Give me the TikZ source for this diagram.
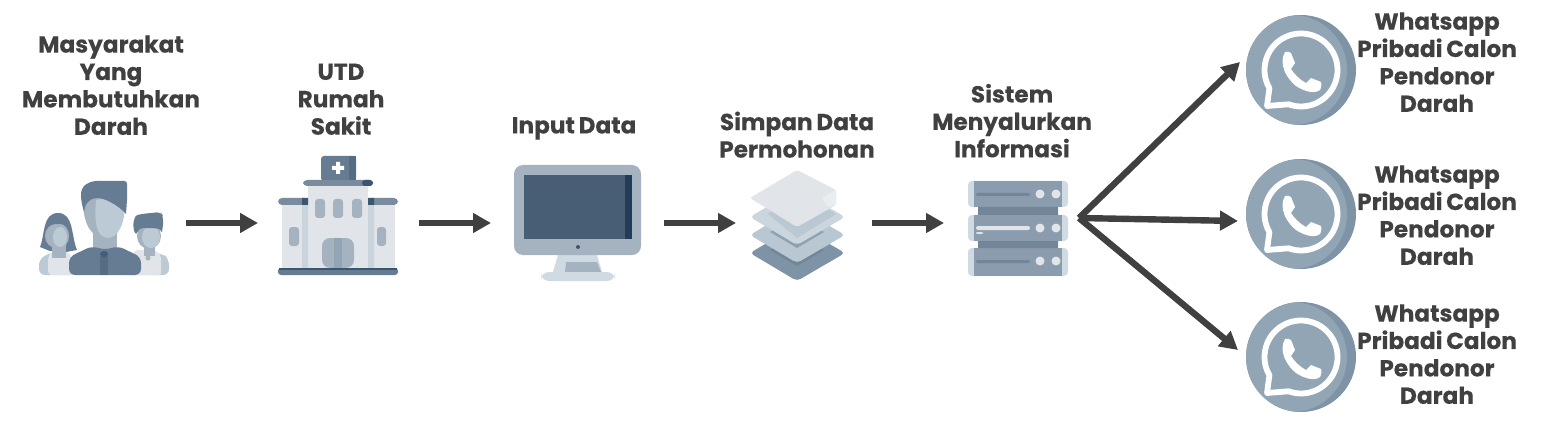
\documentclass[tikz,border=0pt]{standalone}
\usepackage{fontspec}
\setmainfont{Poppins}[BoldFont={Poppins Bold},BoldFeatures={FakeBold=0.25},WordSpace=0.75]
\usetikzlibrary{arrows.meta}
\definecolor{txt}{HTML}{404040}
\definecolor{slate}{HTML}{667C93}
\definecolor{slateD}{HTML}{566C83}
\definecolor{navy}{HTML}{3D5670}
\definecolor{screen}{HTML}{475E75}
\definecolor{strip}{HTML}{233D58}
\definecolor{midc}{HTML}{A5B3C1}
\definecolor{lightc}{HTML}{BCCAD5}
\definecolor{paleA}{HTML}{D0DAE2}
\definecolor{paleB}{HTML}{E1E5EA}
\definecolor{roof}{HTML}{7A8B9D}
\definecolor{srv}{HTML}{8A9CAE}
\definecolor{srvD}{HTML}{728599}
\definecolor{waL}{HTML}{92A5B5}
\definecolor{waD}{HTML}{7F93A7}
\tikzset{
  lbl/.style={font=\fontsize{11.6}{13.7}\selectfont\bfseries,text=txt,align=center,inner sep=0pt},
  anchorbox/.style={inner sep=0pt,outer sep=0pt,minimum height=20pt},
  conn/.style={draw=txt,line width=3.2pt,-{Triangle[length=9pt,width=9.5pt]}},
}
\newcommand{\waicon}[2]{%
  \begin{scope}[shift={(#1,#2)}]
    \fill[waD] (0,0) circle (55);
    \begin{scope}
      \clip (0,0) circle (55);
      \fill[waL] (-9,0) circle (55);
    \end{scope}
    \draw[white,line width=2.9pt,line join=round] (-31.6,18.25) arc (150:470:36.5) -- (-34,36) -- cycle;
    \fill[white] (-16,-18) .. controls (-14,-19) and (-11,-18) .. (-10,-17)
      -- (-6,-7) -- (-10,-1) .. controls (-7,4) and (-1,10) .. (5,13)
      -- (10,8) -- (20,12) .. controls (21,14) and (20,18) .. (19,20)
      .. controls (14,24) and (4,22) .. (-5,16)
      .. controls (-14,9) and (-23,-6) .. (-16,-18) -- cycle;
  \end{scope}}
\begin{document}
\begin{tikzpicture}[x=0.5pt,y=-0.5pt]
\useasboundingbox (0,0) rectangle (1545,427);
\fill[white] (0,0) rectangle (1545,427);

% ---- people
\fill[lightc,rounded corners=3] (39,275) -- (39,259) -- (52,252) -- (70,252) -- (75,275) -- cycle;
\fill[paleB,rounded corners=2] (48,275) -- (48,256) -- (52,252) -- (70,252) -- (75,275) -- cycle;
\fill[slate] (40,247) .. controls (45,236) and (42,213) .. (58,213) .. controls (74,213) and (71,236) .. (77,250) -- (66,252) -- (50,251) -- cycle;
\fill[midc] (52,240) rectangle (66,258);
\fill[midc] (56,236) ellipse (11 and 12);
\fill[midc] (60,236) ellipse (9 and 12);
\fill[lightc] (60,237) ellipse (7 and 10);

\fill[lightc,rounded corners=3] (125,275) -- (135,250) -- (163,254) -- (169,259) -- (169,275) -- cycle;
\fill[paleB,rounded corners=1] (125,275) -- (135,250) -- (155,250) -- (161,256) -- (161,275) -- cycle;
\fill[midc] (144,242) rectangle (155,256);
\fill[midc] (148,258) circle (2.5);
\fill[midc] (149,236) ellipse (12 and 13);
\fill[lightc] (151,237) ellipse (9 and 11);
\fill[slate,rounded corners=2] (136,236) .. controls (132,225) and (134,216) .. (141,214) -- (161,212) -- (163,216) -- (163,228) -- (161,234) .. controls (160,228) and (150,228) .. (139,228) -- cycle;

\fill[midc] (93,232) rectangle (117,252);
\fill[slate,rounded corners=3] (69,275) -- (69,257) -- (92,246) -- (105,250) -- (118,246) -- (141,257) -- (141,275) -- cycle;
\fill[slateD] (100,256) rectangle (108,275);
\fill[navy!80!slate] (104,254) ellipse (4 and 3);
\fill[midc] (83,200) .. controls (83,225) and (92,238) .. (105,238) .. controls (118,238) and (125,225) .. (125,200) -- (124,195) -- (85,195) -- cycle;
\fill[lightc] (96,200) .. controls (94,225) and (97,236) .. (107,238) .. controls (118,238) and (125,225) .. (125,200) -- (124,195) -- cycle;
\fill[slate] (84,212) .. controls (80,198) and (80,190) .. (84,186) .. controls (87,183) and (92,181) .. (97,181) -- (124,181) .. controls (126,181) and (127,182) .. (127,184) -- (127,200) -- (126,214) .. controls (118,205) and (105,198) .. (97,198) .. controls (90,198) and (85,203) .. (84,212) -- cycle;

% ---- hospital
\fill[slate,rounded corners=1.5] (321,156) rectangle (356,181);
\fill[slateD] (349,156) rectangle (356,181);
\fill[white] (336,162) rectangle (340,174) (332,166) rectangle (344,170);
\fill[paleB] (282,204) rectangle (395,268);
\fill[paleB] (308,185) rectangle (368,268);
\fill[paleA!85!midc] (302,205) rectangle (308,268) (368,205) rectangle (374,268);
\fill[roof,rounded corners=2] (278,198) rectangle (308,205) (368,198) rectangle (398,205);
\fill[navy] (302,198) rectangle (308,205) (368,198) rectangle (374,205);
\fill[roof,rounded corners=2] (303,180) rectangle (373,186);
\fill[navy,rounded corners=1.5] (362,180) rectangle (373,186);
\foreach \wx in {315,333,352}{\fill[midc,rounded corners=1.5] (\wx,199) rectangle ++(10,19);}
\fill[midc,rounded corners=1.5] (289,227) rectangle (299,246) (377,227) rectangle (386,246);
\fill[midc,rounded corners=4] (322,268) -- (322,238) -- (354,238) -- (354,268) -- cycle;
\fill[waL] (334,238) rectangle (342,268);
\fill[slate,rounded corners=1.5] (278,268) rectangle (398,275);
\fill[navy] (279,268) rectangle (397,270);

% ---- monitor
\fill[paleA] (558,255) -- (597,255) -- (602,272) -- (553,272) -- cycle;
\fill[midc] (566,262) -- (597,262) -- (601,272) -- (565,272) -- cycle;
\fill[paleA,rounded corners=4] (541,272) rectangle (615,281);
\fill[midc,rounded corners=4.5] (514,165) rectangle (641,255);
\fill[screen] (524,175) rectangle (632,239);
\fill[strip] (625,175) rectangle (632,239);
\fill[navy] (578,247) circle (2);

% ---- layers
\fill[waD,rounded corners=2] (797,225) -- (845,253) -- (797,281) -- (750,253) -- cycle;
\fill[srvD] (770,250) -- (797,266) -- (824,250) -- (797,234) -- cycle;
\fill[lightc!85!midc,rounded corners=2] (797,207) -- (845,235) -- (797,263) -- (750,235) -- cycle;
\fill[waL!90!srvD] (770,232) -- (797,248) -- (824,232) -- (797,216) -- cycle;
\fill[paleA!70!lightc,rounded corners=2] (797,189) -- (845,217) -- (797,245) -- (750,217) -- cycle;
\fill[lightc!90!midc] (768,214) -- (797,238) -- (836,214) -- (797,190) -- cycle;
\fill[paleB,rounded corners=1] (797,170) -- (836,190) -- (836,205) -- (797,227) -- (750,198) -- cycle;
\fill[paleB!70!white] (836,190) -- (836,205) -- (828,207) -- (822,198) -- cycle;

% ---- server
\foreach \ry/\rh in {181/26,215/26,248/28}{
  \fill[paleA,rounded corners=2] (968,\ry) rectangle ++(100,\rh);
  \fill[srv] (974,\ry) rectangle ++(88,\rh);
  \fill[paleB] (1040,\ry+13) circle (4.5) (1056,\ry+13) circle (4.5);
}
\fill[srvD] (978,207) rectangle (1058,215) (978,241) rectangle (1058,248);
\fill[srvD,rounded corners=1] (976,193) rectangle (1030,196) (976,260) rectangle (1030,263);
\fill[paleB,rounded corners=1] (976,226) rectangle (1030,230) (976,232) rectangle (983,234);

% ---- whatsapp icons
\waicon{1301}{70}
\waicon{1301}{214}
\waicon{1301}{357}

% ---- invisible anchors for connectors (x spans arrow end to arrow start)
\node[anchorbox,minimum width=73.5pt] (people) at (112.5,223) {};
\node[anchorbox,minimum width=80.5pt] (hosp) at (338.5,223) {};
\node[anchorbox,minimum width=86.5pt] (mon) at (577.5,223) {};
\node[anchorbox,minimum width=68pt] (lay) at (804,223) {};
\node[anchorbox,minimum width=68pt] (serv) at (1012,223) {};
\coordinate (fan) at (1079,218);
\coordinate (tipA) at (1240,62);
\coordinate (tipB) at (1238,221);
\coordinate (tipC) at (1238,350);

\draw[conn] (people.east) -- (hosp.west);
\draw[conn] (hosp.east) -- (mon.west);
\draw[conn] (mon.east) -- (lay.west);
\draw[conn] (lay.east) -- (serv.west);
\draw[conn] (fan) -- (tipA);
\draw[conn] (fan) -- (tipB);
\draw[conn] (fan) -- (tipC);

% ---- labels
\node[lbl] (t1) at (111,85.2) {Masyarakat\\Yang\\Membutuhkan\\Darah};
\node[lbl] (t2) at (341,99.2) {UTD\\Rumah\\Sakit};
\node[lbl] (t3) at (574,128.4) {Input Data};
\node[lbl] (t4) at (797,134.7) {Simpan Data\\Permohonan};
\node[lbl] (t5) at (1012,120.7) {Sistem\\Menyalurkan\\Informasi};
\node[lbl] (w1) at (1437,62.2) {Whatsapp\\Pribadi Calon\\Pendonor\\Darah};
\node[lbl] (w2) at (1437,215.2) {Whatsapp\\Pribadi Calon\\Pendonor\\Darah};
\node[lbl] (w3) at (1437,354.2) {Whatsapp\\Pribadi Calon\\Pendonor\\Darah};
\end{tikzpicture}
\end{document}
